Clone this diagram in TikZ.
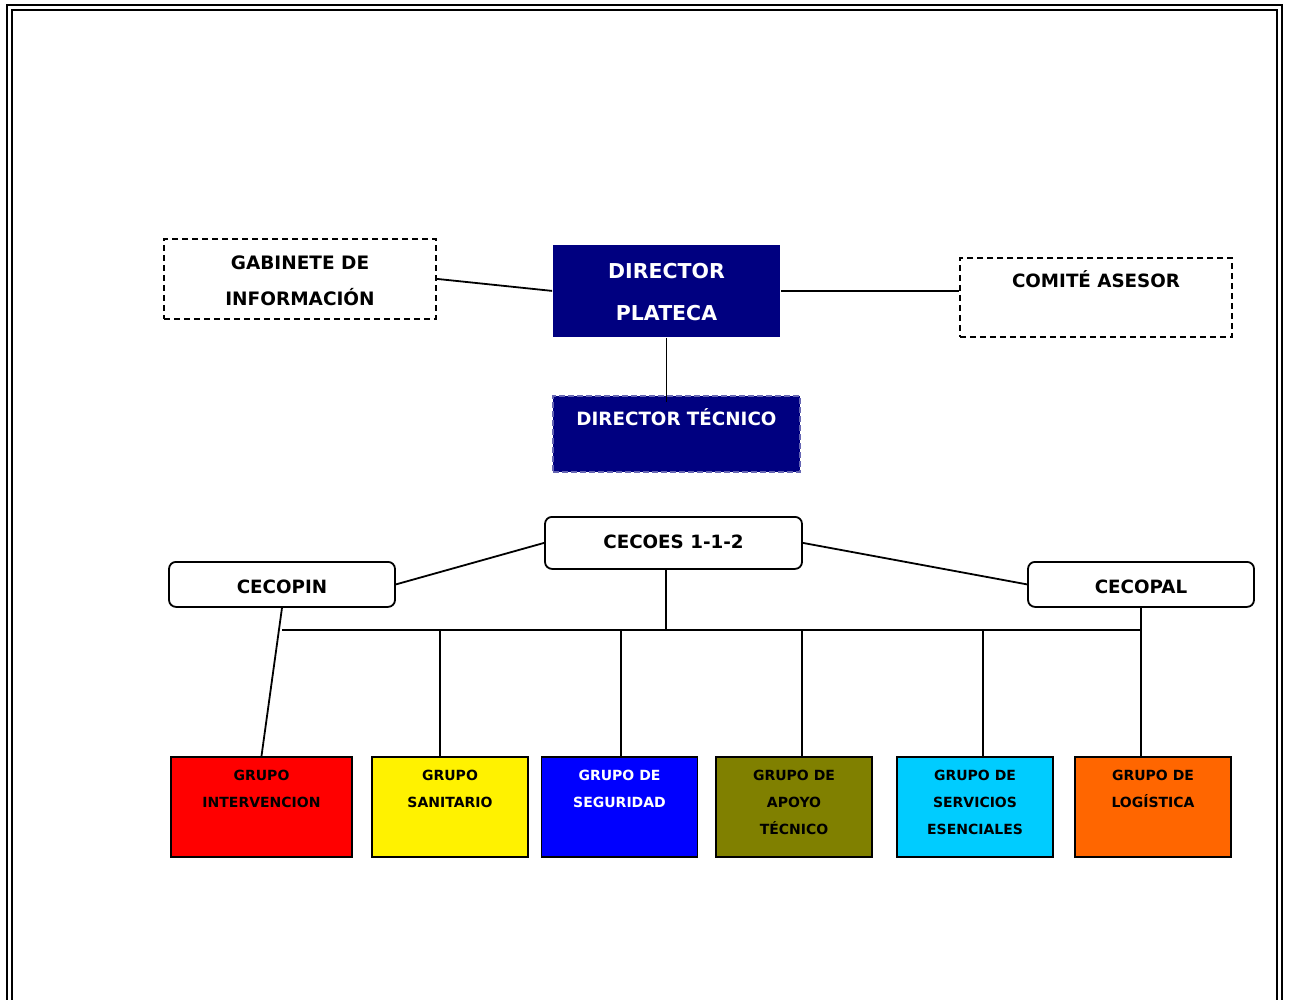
\documentclass[tikz,border=0pt]{standalone}
\usepackage{fontspec}
\setmainfont{DejaVu Sans}
\definecolor{navyb}{HTML}{000080}
\definecolor{olivo}{HTML}{808000}
\definecolor{celeste}{HTML}{00CCFF}
\definecolor{naranja}{HTML}{FF6600}
\begin{document}
\begin{tikzpicture}[x=1pt,y=-1pt,
  box/.style={anchor=north,inner xsep=0pt,inner ysep=0pt,align=center,line width=1.8pt},
  dashbox/.style={box,draw,dash pattern=on 6pt off 4pt},
  dirbox/.style={box,fill=navyb,text=white},
  roundbox/.style={box,draw,rounded corners=7pt,minimum width=226pt,
    font={\fontsize{18.3}{22}\selectfont\bfseries}},
  grp/.style={box,draw,minimum width=156pt,
    font={\fontsize{14}{27}\selectfont\bfseries}},
  two/.style={text height=51pt,text depth=49pt},
  three/.style={text height=78pt,text depth=22pt},
  link/.style={line width=1.8pt}]
\useasboundingbox (0,0) rectangle (1289,1000);
% frame
\draw[line width=2.5pt] (7,1001) -- (7,5) -- (1282,5) -- (1282,1001);
\draw[line width=2pt] (12,1001) -- (12,10) -- (1277,10) -- (1277,1001);
% top
\node[dashbox,minimum width=272pt,text height=66.7pt,text depth=13.3pt,
  font={\fontsize{18.5}{36}\selectfont\bfseries}] (gab) at (300,238) {GABINETE DE\\INFORMACIÓN};
\node[dirbox,minimum width=227pt,text height=75.5pt,text depth=16.5pt,
  font={\fontsize{20.5}{42}\selectfont\bfseries}] (plat) at (666.5,244) {DIRECTOR\\PLATECA};
\node[dashbox,minimum width=272pt,text height=29.7pt,text depth=49.3pt,
  font={\fontsize{18.3}{22}\selectfont\bfseries}] (com) at (1096,257) {COMITÉ ASESOR};
\node[dirbox,draw=navyb!60!white,dash pattern=on 6pt off 3pt,minimum width=247pt,
  text height=29.7pt,text depth=46.3pt,
  font={\fontsize{18.3}{22}\selectfont\bfseries}] (tec) at (676.5,395) {DIRECTOR TÉCNICO};
\draw[link] (gab.east) -- (plat.west);
\draw[link] (plat.east) -- (plat.east -| com.west);
\draw[link] (plat.south) -- ([yshift=-7pt]plat.south |- tec.north);
% centros
\node[roundbox,minimum width=257pt,text height=31.7pt,text depth=20.3pt] (cecoes) at (673.5,516) {CECOES 1-1-2};
\node[roundbox,text height=31.7pt,text depth=13.3pt] (cecopin) at (282,561) {CECOPIN};
\node[roundbox,text height=31.7pt,text depth=13.3pt] (cecopal) at (1141,561) {CECOPAL};
\draw[link] (cecopin.east) -- (cecoes.west);
\draw[link] (cecoes.east) -- (cecopal.west);
% grupos
\node[grp,two,fill=red,minimum width=181pt] (gint) at (261.5,756) {GRUPO\\INTERVENCION};
\node[grp,two,fill=yellow] (gsan) at (450,756) {GRUPO\\SANITARIO};
\node[grp,two,fill=blue,text=white] (gseg) at (619.5,756) {GRUPO DE\\SEGURIDAD};
\node[grp,three,fill=olivo] (gapo) at (794,756) {GRUPO DE\\APOYO\\TÉCNICO};
\node[grp,three,fill=celeste] (gser) at (975,756) {GRUPO DE\\SERVICIOS\\ESENCIALES};
\node[grp,two,fill=naranja] (glog) at (1153,756) {GRUPO DE\\LOGÍSTICA};
% bus
\coordinate (bus) at (666,630);
\draw[link] (cecoes.south -| bus) -- (bus);
\draw[link] (cecopin.south |- bus) -- (cecopal.south |- bus);
\draw[link] (cecopin.south) -- (gint.north);
\draw[link] (cecopal.south) -- (cecopal.south |- glog.north);
\foreach \x/\g in {440/gsan,621/gseg,802/gapo,983/gser}
  \draw[link] (bus -| \x,0) -- (\g.north -| \x,0);
\end{tikzpicture}
\end{document}
